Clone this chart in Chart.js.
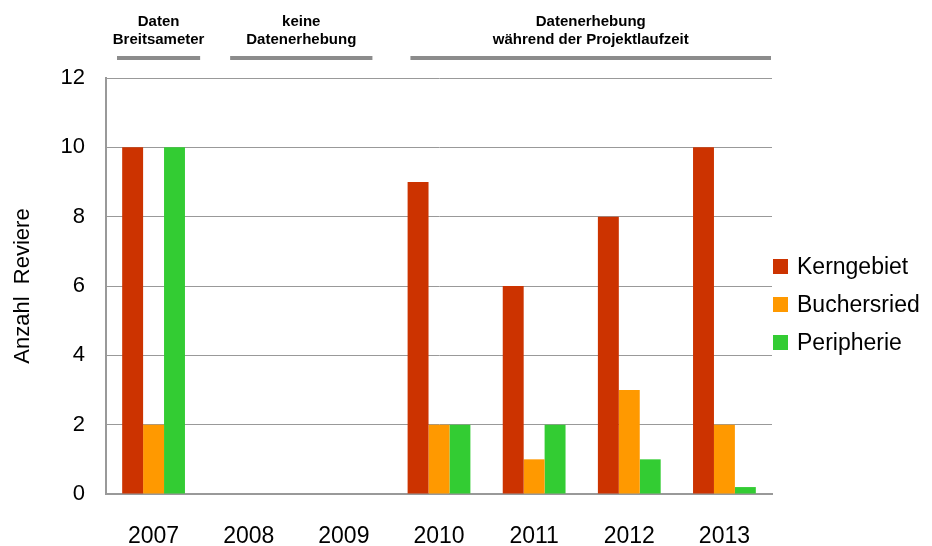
<!DOCTYPE html>
<html>
<head>
<title>Anzahl Reviere</title>
<script src="https://cdn.jsdelivr.net/npm/chart.js"></script>
<style>
  body{ margin:0; background:#fff; }
  #wrap{ width:932px; height:546px; }
</style>
</head>
<body>
<div id="wrap"><canvas id="myChart" width="932" height="546"></canvas></div>
<script>
// data
const years = ['2007', '2008', '2009', '2010', '2011', '2012', '2013'];
const kerngebiet  = [10, null, null, 9, 6, 8, 10];
const buchersried = [2, null, null, 2, 1, 3, 2];
const peripherie  = [10, null, null, 2, 2, 1, 0.2];
const yTicks = [0, 2, 4, 6, 8, 10, 12];

// periods written above the plot: text lines, first and last year index
const periodLabels = [['Daten', 'Breitsameter'], ['keine', 'Datenerhebung'], ['Datenerhebung', 'während der Projektlaufzeit']];
const periodFrom = [0, 1, 3];
const periodTo   = [0, 2, 6];

// draws the period notes and the grey bars under them
const periodPlugin = {
  id: 'periods',
  afterDraw(chart) {
    const ctx = chart.ctx;
    const x = chart.scales.x;
    const half = (x.getPixelForValue(1) - x.getPixelForValue(0)) / 2;
    const insetL = [11, 29, 19];
    const insetR = [1, 19, 1];
    ctx.save();
    periodLabels.forEach((lines, i) => {
      const x0 = x.getPixelForValue(periodFrom[i]) - half + insetL[i];
      const x1 = x.getPixelForValue(periodTo[i]) + half - insetR[i];
      const cx = (x0 + x1) / 2;
      ctx.fillStyle = '#000';
      ctx.font = 'bold 15px "Liberation Sans", Arial, sans-serif';
      ctx.textAlign = 'center';
      ctx.textBaseline = 'middle';
      lines.forEach((t, j) => ctx.fillText(t, cx, 22 + j * 18));
      ctx.strokeStyle = '#8c8c8c';
      ctx.lineWidth = 4;
      ctx.lineCap = 'butt';
      ctx.beginPath();
      ctx.moveTo(x0, 58);
      ctx.lineTo(x1, 58);
      ctx.stroke();
    });
    ctx.restore();
  }
};

// legend to the right of the plot
const legendPlugin = {
  id: 'sideLegend',
  afterDraw(chart) {
    const ctx = chart.ctx;
    const left = chart.chartArea.right + 1;
    ctx.save();
    ctx.font = '23px "Liberation Sans", Arial, sans-serif';
    ctx.textAlign = 'left';
    ctx.textBaseline = 'middle';
    chart.data.datasets.forEach((ds, i) => {
      const cy = 266.5 + i * 38;
      ctx.fillStyle = ds.backgroundColor;
      ctx.fillRect(left, cy - 7.5, 15, 15);
      ctx.fillStyle = '#000';
      ctx.fillText(ds.label, left + 24, cy + 1);
    });
    ctx.restore();
  }
};

new Chart(document.getElementById('myChart'), {
  type: 'bar',
  data: {
    labels: years,
    datasets: [
      { label: 'Kerngebiet', data: kerngebiet, backgroundColor: '#cc3300' },
      { label: 'Buchersried', data: buchersried, backgroundColor: '#ff9900' },
      { label: 'Peripherie', data: peripherie, backgroundColor: '#33cc33' }
    ]
  },
  options: {
    responsive: false,
    animation: false,
    layout: { padding: { top: 78, right: 160, bottom: 0, left: 0 } },
    datasets: { bar: { categoryPercentage: 0.66, barPercentage: 1 } },
    plugins: { legend: { display: false }, tooltip: { enabled: false } },
    scales: {
      x: {
        grid: { display: false },
        border: { color: '#999', width: 2 },
        ticks: { color: '#000', padding: 21, font: { size: 23, family: '"Liberation Sans", Arial, sans-serif' } },
        afterFit(scale) { scale.height = 52; }
      },
      y: {
        min: 0,
        max: 12,
        afterBuildTicks(scale) { scale.ticks = yTicks.map(v => ({ value: v })); },
        grid: { color: '#999', lineWidth: 1, drawTicks: false },
        border: { color: '#999', width: 2 },
        ticks: { color: '#000', padding: 21, font: { size: 22, family: '"Liberation Sans", Arial, sans-serif' } },
        title: { display: true, text: 'Anzahl  Reviere', color: '#000', padding: { top: 10, bottom: 0 }, font: { size: 22, family: '"Liberation Sans", Arial, sans-serif' } },
        afterFit(scale) { scale.width = 106; }
      }
    }
  },
  plugins: [periodPlugin, legendPlugin]
});
</script>
</body>
</html>
